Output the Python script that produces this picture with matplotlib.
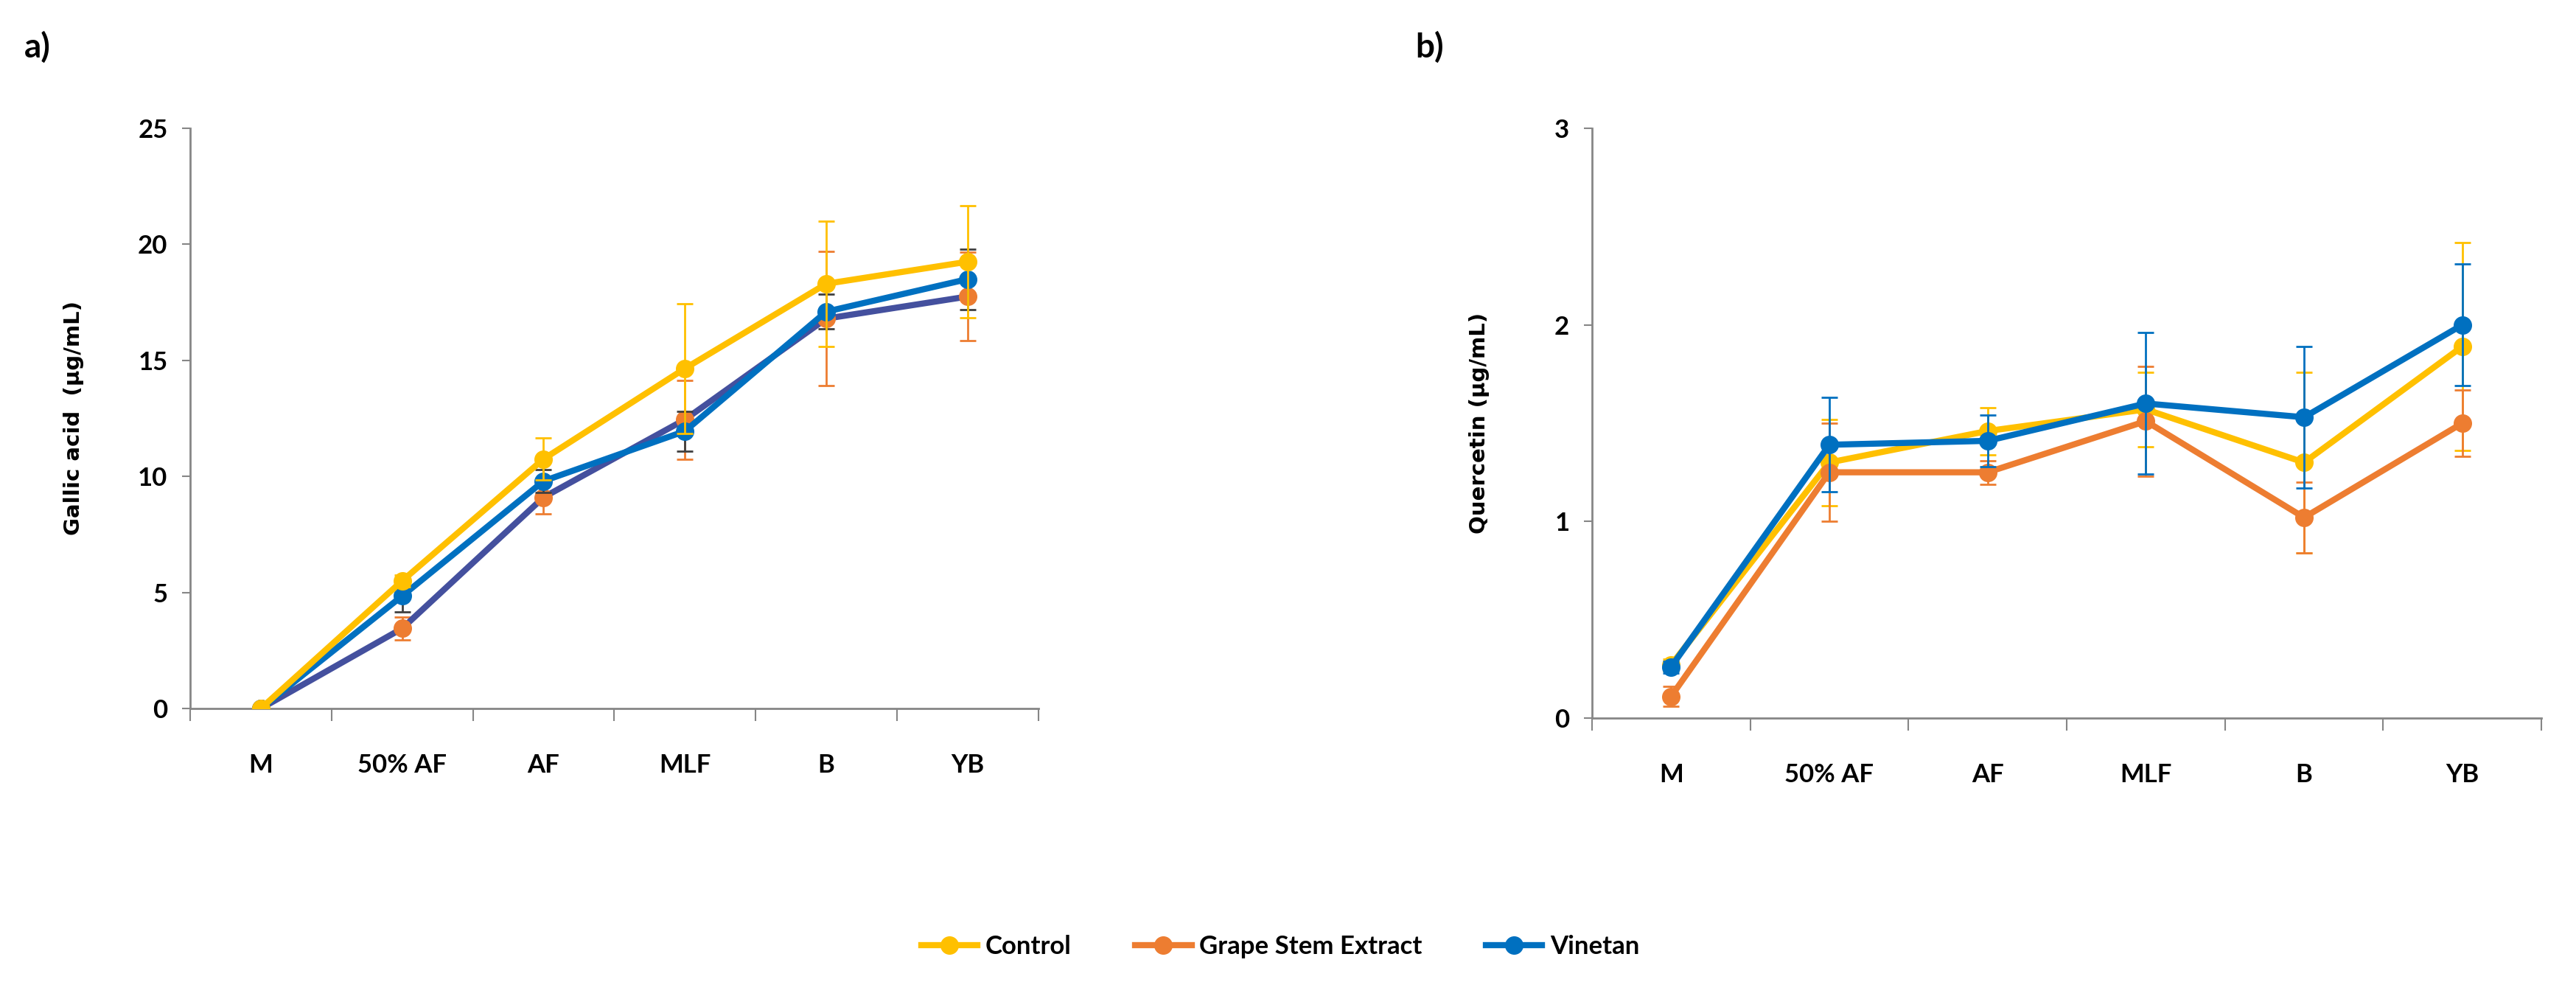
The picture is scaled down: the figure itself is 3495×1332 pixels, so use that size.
import matplotlib.pyplot as plt
import numpy as np

plt.rcParams['font.family'] = ['Lato', 'DejaVu Sans']

# Sampling stages
stages = ['M', '50% AF', 'AF', 'MLF', 'B', 'YB']

# a) Gallic acid (ug/mL)
gallic_control = [0.0, 5.5, 10.75, 14.65, 18.3, 19.25]
gallic_control_err = [0.0, 0.25, 0.9, 2.8, 2.7, 2.4]
gallic_stem = [0.0, 3.45, 9.1, 12.45, 16.8, 17.75]
gallic_stem_err = [0.0, 0.5, 0.7, 1.7, 2.9, 1.9]
gallic_vinetan = [0.0, 4.85, 9.8, 11.95, 17.1, 18.5]
gallic_vinetan_err = [0.0, 0.7, 0.5, 0.85, 0.75, 1.3]

# b) Quercetin (ug/mL)
querc_control = [0.27, 1.30, 1.46, 1.57, 1.30, 1.89]
querc_control_err = [0.03, 0.22, 0.12, 0.19, 0.46, 0.53]
querc_stem = [0.11, 1.25, 1.25, 1.51, 1.02, 1.50]
querc_stem_err = [0.05, 0.25, 0.06, 0.28, 0.18, 0.17]
querc_vinetan = [0.26, 1.39, 1.41, 1.60, 1.53, 2.00]
querc_vinetan_err = [0.03, 0.24, 0.13, 0.36, 0.36, 0.31]

yellow = '#FFC000'
orange = '#ED7D31'
blue = '#0070C0'
indigo = '#44509E'
axis_grey = '#868686'

fig = plt.figure(figsize=(34.95, 13.32), dpi=100)
ax_a = fig.add_axes([0.0738, 0.2785, 0.3293, 0.5909])
ax_b = fig.add_axes([0.6180, 0.2688, 0.3686, 0.6006])

x = np.arange(len(stages))
lkw = dict(marker='o', markersize=17, linewidth=6, capsize=8, elinewidth=2, capthick=2)


def style_axes(ax, ymax, ystep, ylabel, label_x):
    ax.set_xlim(-0.5, len(stages) - 0.5)
    ax.set_ylim(0, ymax)
    ax.set_yticks(np.arange(0, ymax + ystep / 2, ystep))
    ax.set_xticks(x)
    ax.set_xticklabels(stages, fontsize=25, fontweight='bold')
    ax.set_xticks(np.arange(-0.5, len(stages), 1.0), minor=True)
    ax.tick_params(axis='x', which='major', length=0, pad=44)
    ax.tick_params(axis='x', which='minor', length=12, width=1.5, color=axis_grey, direction='out')
    ax.tick_params(axis='y', length=8, width=1.5, color=axis_grey, labelsize=25, pad=14)
    for lab in ax.get_yticklabels():
        lab.set_fontweight('bold')
    for side in ['top', 'right']:
        ax.spines[side].set_visible(False)
    for side in ['left', 'bottom']:
        ax.spines[side].set_color(axis_grey)
        ax.spines[side].set_linewidth(2)
    ax.set_ylabel(ylabel, fontsize=21, fontweight='bold', family='DejaVu Sans')
    ax.yaxis.set_label_coords(label_x, 0.5)


# panel a
ax_a.errorbar(x, gallic_stem, yerr=gallic_stem_err, color=indigo, ecolor=orange,
              markerfacecolor=orange, markeredgecolor=orange, zorder=3, **lkw)
ax_a.errorbar(x, gallic_vinetan, yerr=gallic_vinetan_err, color=blue, ecolor='#404040', zorder=4, **lkw)
ax_a.errorbar(x, gallic_control, yerr=gallic_control_err, color=yellow, zorder=5, **lkw)
style_axes(ax_a, 25, 5, 'Gallic acid  (µg/mL)', -0.125)

# panel b
h1 = ax_b.errorbar(x, querc_control, yerr=querc_control_err, color=yellow, zorder=3, **lkw)
h2 = ax_b.errorbar(x, querc_stem, yerr=querc_stem_err, color=orange, zorder=4, **lkw)
h3 = ax_b.errorbar(x, querc_vinetan, yerr=querc_vinetan_err, color=blue, zorder=5, **lkw)
style_axes(ax_b, 3, 1, 'Quercetin (µg/mL)', -0.108)

fig.text(0.0095, 0.952, 'a)', fontsize=33, fontweight='bold', va='center')
fig.text(0.5495, 0.952, 'b)', fontsize=33, fontweight='bold', va='center')

fig.legend([h1[0], h2[0], h3[0]], ['Control', 'Grape Stem Extract', 'Vinetan'],
           loc='center', bbox_to_anchor=(0.497, 0.036), ncol=3, frameon=False,
           prop={'size': 25, 'weight': 'bold'}, handlelength=2.2, columnspacing=2.5,
           handletextpad=0.3)

fig.savefig('out.png', dpi=100)
